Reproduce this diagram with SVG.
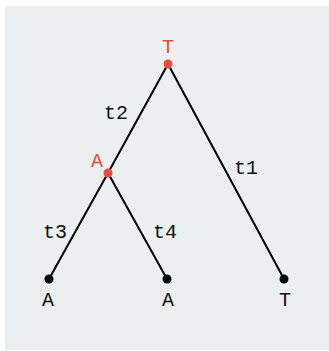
<svg xmlns="http://www.w3.org/2000/svg" width="329" height="351" viewBox="0 0 329 351">
<style>
.edge{stroke:#000;stroke-width:2;fill:none}
.lbl{font-family:"Liberation Mono","DejaVu Sans Mono",monospace;font-size:20px;fill:#111}
.red{fill:#e74c3c}
.leafdot{fill:#000}
</style>
<rect x="5" y="6" width="324" height="344" fill="#eceff0"/>
<g id="connectors">
<line class="edge" x1="168" y1="64" x2="108" y2="173"/>
<line class="edge" x1="168" y1="64" x2="284" y2="279"/>
<line class="edge" x1="108" y1="173" x2="49" y2="279"/>
<line class="edge" x1="108" y1="173" x2="167" y2="279"/>
<text class="lbl" x="116" y="119" text-anchor="middle">t2</text>
<text class="lbl" x="246" y="174" text-anchor="middle">t1</text>
<text class="lbl" x="55" y="238" text-anchor="middle">t3</text>
<text class="lbl" x="165" y="238" text-anchor="middle">t4</text>
</g>
<g id="root">
<circle class="red" cx="168" cy="64" r="4.5"/>
<text class="lbl red" x="168" y="53" text-anchor="middle">T</text>
</g>
<g id="internal">
<circle class="red" cx="108" cy="173" r="4.5"/>
<text class="lbl red" x="97" y="167" text-anchor="middle">A</text>
</g>
<g id="leaf1">
<circle class="leafdot" cx="49" cy="279" r="4.5"/>
<text class="lbl" x="48" y="306" text-anchor="middle">A</text>
</g>
<g id="leaf2">
<circle class="leafdot" cx="167" cy="279" r="4.5"/>
<text class="lbl" x="168" y="306" text-anchor="middle">A</text>
</g>
<g id="leaf3">
<circle class="leafdot" cx="284" cy="279" r="4.5"/>
<text class="lbl" x="285" y="306" text-anchor="middle">T</text>
</g>
</svg>
